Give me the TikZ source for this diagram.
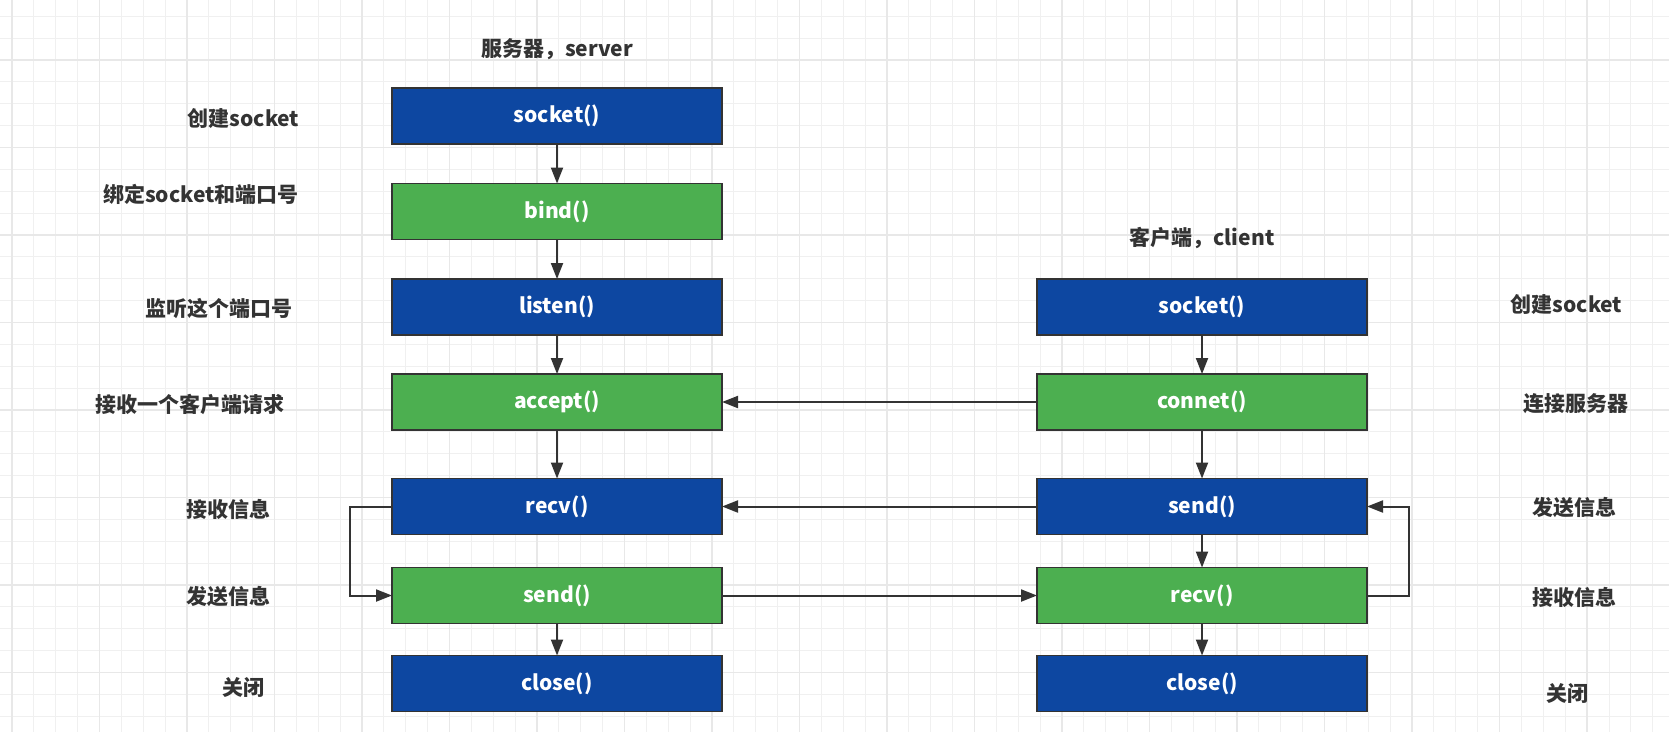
\documentclass[tikz,border=0pt]{standalone}
\usepackage{fontspec}
\setmainfont{Noto Sans CJK SC}
\usepackage{xcolor}
\usetikzlibrary{arrows.meta, positioning}
\definecolor{sockblue}{HTML}{0D47A1}
\definecolor{sockgreen}{HTML}{4CAF50}
\definecolor{inkgray}{HTML}{333333}

\begin{document}
\begin{tikzpicture}[x=1pt, y=-1pt,
    gridminor/.style={draw=black!6, line width=0.8pt},
    gridmajor/.style={draw=black!9, line width=1.1pt},
    func/.style={rectangle, draw=inkgray, line width=1.8pt, minimum width=330pt, minimum height=56pt,
        inner sep=0pt, outer sep=0pt, text=white, font=\fontsize{21}{25}\selectfont\bfseries},
    bluefunc/.style={func, fill=sockblue},
    greenfunc/.style={func, fill=sockgreen},
    note/.style={text=inkgray, inner sep=0pt, font=\fontsize{21}{25}\selectfont\bfseries},
    flow/.style={draw=inkgray, line width=2pt, -{Triangle[length=16pt, width=12pt]}}]
\useasboundingbox (0,0) rectangle (1669,732);
\fill[white] (0,0) rectangle (1669,732);

% Background grid
\foreach \i in {0,...,75} {
    \draw[gridminor] ({12+21.875*\i},0) -- ({12+21.875*\i},732);
}
\foreach \j in {0,...,32} {
    \draw[gridminor] (0,{16.25+21.875*\j}) -- (1669,{16.25+21.875*\j});
}
\foreach \i in {0,...,18} {
    \draw[gridmajor] ({12+87.5*\i},0) -- ({12+87.5*\i},732);
}
\foreach \j in {0,...,8} {
    \draw[gridmajor] (0,{60+87.5*\j}) -- (1669,{60+87.5*\j});
}

% Server column
\node[note] (srvtitle) at (557,49) {服务器，server};
\node[bluefunc] (ssocket) at (557,116) {socket()};
\node[greenfunc] (sbind) at (557,211.5) {bind()};
\node[bluefunc] (slisten) at (557,307) {listen()};
\node[greenfunc] (saccept) at (557,402) {accept()};
\node[bluefunc] (srecv) at (557,506.5) {recv()};
\node[greenfunc] (ssend) at (557,595.5) {send()};
\node[bluefunc] (sclose) at (557,683.5) {close()};

% Client column
\node[note] (clititle) at (1202,237.5) {客户端，client};
\node[bluefunc] (csocket) at (1202,307) {socket()};
\node[greenfunc] (cconnet) at (1202,402) {connet()};
\node[bluefunc] (csend) at (1202,506.5) {send()};
\node[greenfunc] (crecv) at (1202,595.5) {recv()};
\node[bluefunc] (cclose) at (1202,683.5) {close()};

% Server notes
\node[note] (lsocket) at (243.5,118) {创建socket};
\node[note] (lbind) at (201,194) {绑定socket和端口号};
\node[note] (llisten) at (218.5,309) {监听这个端口号};
\node[note] (laccept) at (190,404) {接收一个客户端请求};
\node[note] (lrecv) at (228.5,509) {接收信息};
\node[note] (lsend) at (228.5,597) {发送信息};
\node[note] (lclose) at (243.5,687.5) {关闭};

% Client notes
\node[note] (rsocket) at (1566.5,304) {创建socket};
\node[note] (rconnet) at (1576,404) {连接服务器};
\node[note] (rsend) at (1574,508) {发送信息};
\node[note] (rrecv) at (1574,597) {接收信息};
\node[note] (rclose) at (1567,693) {关闭};

% Call order
\foreach \a/\b in {ssocket/sbind, sbind/slisten, slisten/saccept, saccept/srecv, ssend/sclose,
    csocket/cconnet, cconnet/csend, csend/crecv, crecv/cclose} {
    \draw[flow] (\a) -- (\b);
}

% Messages between the two
\draw[flow] (cconnet) -- (saccept);
\draw[flow] (csend) -- (srecv);
\draw[flow] (ssend) -- (crecv);

% Loops
\draw[flow] (srecv.west) -- ++(-42.5,0) |- (ssend.west);
\draw[flow] (crecv.east) -- ++(42,0) |- (csend.east);
\end{tikzpicture}
\end{document}
